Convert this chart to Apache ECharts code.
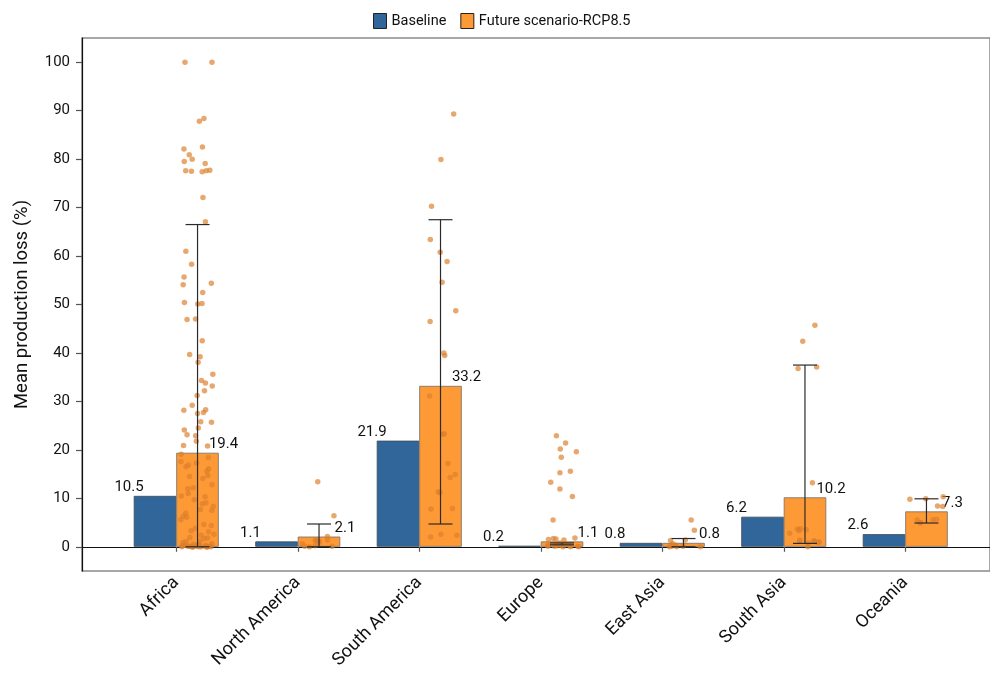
<!DOCTYPE html>
<html>
<head>
<meta charset="utf-8">
<script src="https://cdn.jsdelivr.net/npm/echarts@6/dist/echarts.min.js"></script>
<style>
  html, body { margin: 0; padding: 0; background: #fff; }
  #chart { width: 990px; height: 674px; }
</style>
</head>
<body>
<div id="chart"></div>
<script>
// Regions and mean production loss (%)
const regions = ['Africa', 'North America', 'South America', 'Europe', 'East Asia', 'South Asia', 'Oceania'];
const baseline = [10.5, 1.1, 21.9, 0.2, 0.8, 6.2, 2.6];
const future = [19.4, 2.1, 33.2, 1.1, 0.8, 10.2, 7.3];

// Spread of the future scenario (whisker bounds)
const errLow = [0, 0, 4.7, 0.4, 0, 0.7, 4.9];
const errHigh = [66.5, 4.7, 67.5, 0.8, 1.7, 37.5, 9.9];

// Individual country values, future scenario
const africaPts = [100, 100, 88.4, 87.8, 82.5, 82.1, 80.9, 80.0, 79.5, 79.1, 77.6, 77.7, 77.5, 77.6, 77.4,
  72.1, 67.1, 61.0, 58.3, 55.7, 54.4, 54.1, 52.5, 50.4, 50.1, 50.2, 47.0, 46.9, 42.5, 39.7, 39.2, 38.1,
  35.6, 34.3, 33.8, 33.2, 32.2, 31.2, 29.2, 28.2, 28.3, 27.7, 27.5, 25.7, 25.8, 24.5, 24.1, 23.1, 22.9,
  21.8, 20.9, 20.8,
  19.1, 18.4, 17.6, 17.3, 16.9, 16.5, 16.1, 15.6, 14.7, 14.5, 14.1, 12.8, 12.2, 12.0, 11.0, 10.5, 10.3,
  9.7, 9.1, 8.9, 8.3, 7.7, 7.5, 6.9, 6.3, 6.1, 5.6, 4.6, 4.4, 3.8, 3.3, 3.1, 2.6, 2.4, 1.9, 1.8, 1.7,
  1.2, 1.1, 0.9, 0.6, 0.5, 0.4, 0.4, 0.3, 0.3, 0.2, 0.2, 0.2, 0.1, 0.1, 0.1, 0.1, 0.0, 0.0, 0.0, 0.0,
  0.0, 0.0, 0.0, 0.0, 0.0, 0.0, 0.0, 0.0];
const northAmericaPts = [13.4, 6.4, 2.1, 1.3, 1.2, 1.4, 1.3, 0.9, 0.6, 0.1, 0.1, 0.2, 0.0];
const southAmericaPts = [89.3, 79.9, 70.3, 63.4, 60.8, 58.9, 54.6, 48.7, 46.5, 40.0, 39.5, 31.1, 23.2, 23.3,
  17.2, 14.9, 14.3, 11.3, 11.2, 7.8, 7.9, 2.6, 2.4, 2.0];
const europePts = [22.9, 21.4, 20.2, 19.6, 18.5, 15.6, 15.3, 13.3, 11.9, 10.4, 5.5, 1.7, 1.5, 1.4, 1.6, 1.8,
  0.8, 0.6, 0.5, 0.4, 0.3, 0.3, 0.2, 0.2, 0.1, 0.1, 0.1, 0.0, 0.0, 0.0];
const eastAsiaPts = [5.5, 3.4, 1.4, 1.3, 0.6, 0.3, 0.1, 0.1, 0.0, 0.0, 0.0];
const southAsiaPts = [45.7, 42.4, 37.1, 36.8, 13.2, 3.7, 3.6, 3.5, 3.3, 2.8, 1.4, 1.2, 1.1, 1.2, 1.0, 0.9, 0.8, 0.0];
const oceaniaPts = [10.3, 9.9, 9.8, 8.4, 8.3, 5.6, 5.7, 5.5, 5.0, 4.9];

const yTicks = [0, 10, 20, 30, 40, 50, 60, 70, 80, 90, 100];

const pointGroups = [africaPts, northAmericaPts, southAmericaPts, europePts, eastAsiaPts, southAsiaPts, oceaniaPts];
const pointData = [];
pointGroups.forEach((pts, i) => pts.forEach(v => pointData.push([i, v])));
const errData = regions.map((r, i) => [i, errLow[i], errHigh[i]]);

const FONT = 'Roboto';
const BLUE = '#31669a';
const ORANGE = '#fe9a35';

const chart = echarts.init(document.getElementById('chart'), null, { renderer: 'canvas' });

const yRange = { min: -5, max: 105 };
const gridTop = 38, gridBottom = 103;

chart.setOption({
  animation: false,
  textStyle: { fontFamily: FONT },
  legend: {
    left: 368, top: 8,
    icon: 'rect',
    itemWidth: 13, itemHeight: 15, itemGap: 14,
    textStyle: { fontFamily: FONT, fontSize: 14.5, color: '#111' },
    itemStyle: { borderColor: '#222', borderWidth: 1 },
    data: ['Baseline', 'Future scenario-RCP8.5']
  },
  grid: [
    // outer frame with the value axis
    { left: 82, top: gridTop, right: -10, bottom: gridBottom, show: true, borderColor: '#8a8a8a', borderWidth: 1.5 },
    // bars
    { left: 115.5, top: gridTop, right: 24, bottom: gridBottom },
    // items centred on the future-scenario bars
    { left: 136.8, top: gridTop, right: 2.8, bottom: gridBottom }
  ],
  xAxis: [
    { type: 'value', gridIndex: 0, min: 0, max: 1,
      axisLine: { show: true, lineStyle: { color: '#111', width: 1.2 } },
      axisTick: { show: false }, axisLabel: { show: false }, splitLine: { show: false } },
    { type: 'category', gridIndex: 1, data: regions, boundaryGap: true,
      axisLine: { show: false },
      axisTick: { show: true, alignWithLabel: true, length: 5, lineStyle: { color: '#555', width: 1.2 } },
      axisLabel: { rotate: 45, margin: 9, fontFamily: FONT, fontSize: 18, color: '#111', interval: 0 } },
    { type: 'category', gridIndex: 2, data: regions, boundaryGap: true,
      jitter: 34, jitterOverlap: true,
      axisLine: { show: false }, axisTick: { show: false }, axisLabel: { show: false } }
  ],
  yAxis: [
    { type: 'value', gridIndex: 0, min: yRange.min, max: yRange.max,
      name: 'Mean production loss (%)', nameLocation: 'middle', nameGap: 50,
      nameTextStyle: { fontFamily: FONT, fontSize: 18.5, color: '#111' },
      axisLine: { show: true, lineStyle: { color: '#111', width: 1.2 } },
      axisTick: { show: true, length: 6, customValues: yTicks, lineStyle: { color: '#555', width: 1.2 } },
      axisLabel: { customValues: yTicks, margin: 12, fontFamily: FONT, fontSize: 15, color: '#111' },
      splitLine: { show: false } },
    { type: 'value', gridIndex: 1, min: yRange.min, max: yRange.max, show: false, splitLine: { show: false } },
    { type: 'value', gridIndex: 2, min: yRange.min, max: yRange.max, show: false, splitLine: { show: false } }
  ],
  series: [
    {
      name: 'Baseline', type: 'bar', xAxisIndex: 1, yAxisIndex: 1,
      data: baseline, barWidth: 42.5, barGap: '0%',
      itemStyle: { color: BLUE, borderColor: '#3d4a57', borderWidth: 0.8 },
      label: { show: true, position: 'top', offset: [-26, 4], fontFamily: FONT, fontSize: 15, color: '#111' },
      z: 2
    },
    {
      name: 'Future scenario-RCP8.5', type: 'bar', xAxisIndex: 1, yAxisIndex: 1,
      data: future, barWidth: 42.5, barGap: '0%',
      itemStyle: { color: ORANGE, borderColor: '#6e6e6e', borderWidth: 0.8 },
      label: { show: true, position: 'top', offset: [26, 4], fontFamily: FONT, fontSize: 15, color: '#111' },
      z: 2
    },
    {
      name: 'points', type: 'scatter', xAxisIndex: 2, yAxisIndex: 2,
      data: pointData, symbolSize: 5.5,
      itemStyle: { color: '#db7f2c', opacity: 0.68 },
      silent: true, z: 3
    },
    {
      name: 'spread', type: 'custom', xAxisIndex: 2, yAxisIndex: 2,
      data: errData,
      encode: { x: 0, y: [1, 2] },
      renderItem: function (params, api) {
        const i = api.value(0);
        const lo = api.coord([i, api.value(1)]);
        const hi = api.coord([i, api.value(2)]);
        const hw = 12;
        const style = { stroke: '#2b2b2b', lineWidth: 1.2, fill: null };
        return {
          type: 'group',
          children: [
            { type: 'line', shape: { x1: lo[0], y1: lo[1], x2: hi[0], y2: hi[1] }, style: style },
            { type: 'line', shape: { x1: hi[0] - hw, y1: hi[1], x2: hi[0] + hw, y2: hi[1] }, style: style },
            { type: 'line', shape: { x1: lo[0] - hw, y1: lo[1], x2: lo[0] + hw, y2: lo[1] }, style: style }
          ]
        };
      },
      silent: true, z: 4
    }
  ]
});
</script>
</body>
</html>
